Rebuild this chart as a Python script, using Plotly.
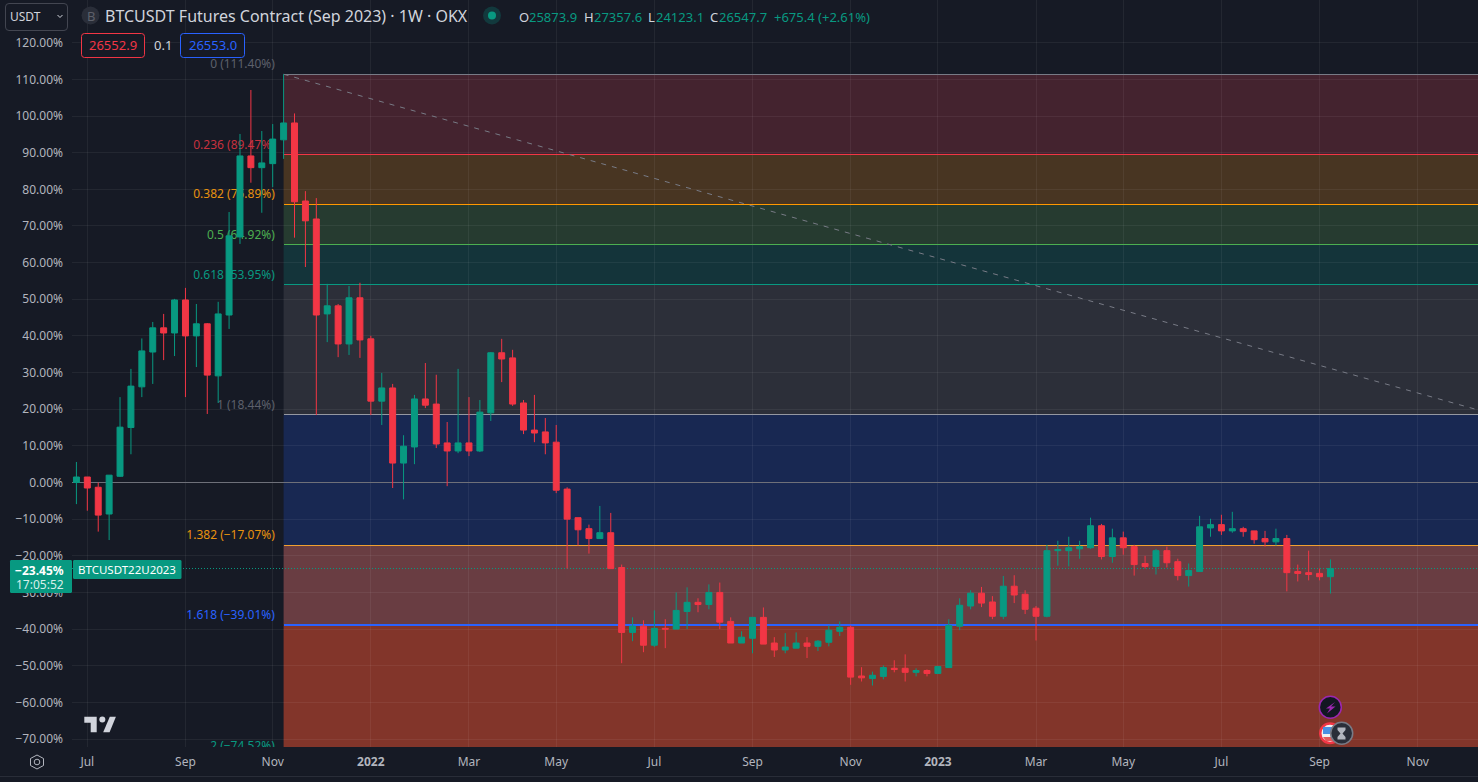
import pandas as pd
import plotly.graph_objects as go

# ---------- data (percent change) ----------
first_week = "2021-06-28"
opens = [0,1.5,-1.3,-8.6,1.7,15,26.1,35.6,42.2,40.8,49.8,40,43.3,29.1,45.7,67,89.1,85.9,87,93.5,
         98.1,76.8,71.9,46,48.2,37.8,50.4,39.2,22.2,25.8,5.3,9.7,22.8,21.4,10.8,8.6,10.8,8.6,19,35.4,
         34,21.7,14.3,13.8,11,-1.8,-9.6,-12.6,-15.3,-13.7,-23.2,-40.9,-39.2,-44.4,-39.8,-40,-35.2,-32.7,-33.3,-30,
         -37.9,-43.8,-42.5,-36.8,-43.8,-45.7,-45.2,-43.8,-44.7,-43.6,-40.6,-39.5,-52.8,-53.5,-52.9,-50.7,-50.7,-51.8,-51.3,-52.1,
         -50.5,-39.2,-33.7,-30.2,-32.6,-36.5,-28.3,-30.5,-34.3,-36.5,-18.6,-18.6,-18.1,-17.8,-11.8,-20.2,-15.1,-17.5,-22.1,-22.9,
         -18.6,-21.6,-25.4,-24.3,-12.4,-11.5,-13.2,-12.6,-13.2,-15.3,-16.2,-15.3,-24.3,-24.6,-24.8,-25.7]
highs = [5.6,1.5,0,2,23.3,31,39.3,43.8,46,50.1,53.1,48.7,43.5,49.3,73.8,95.1,107.1,95.9,97.8,111.4,
         100.7,79.5,77.6,54.2,48.7,53.6,54.5,40,29.9,26.9,12.9,23.9,32.6,29.4,16.5,31,23.3,22.5,35.6,39.2,
         36.2,22.5,23.9,17.6,15.7,-1.3,-9.6,-11.5,-6.4,-8.3,-22.4,-36.8,-37.6,-34.9,-37.3,-30,-28.6,-31.6,-27.8,-27.3,
         -36.8,-40.6,-36.8,-34.1,-42.2,-41.1,-40.9,-42.2,-43,-39,-37.9,-39,-50.4,-51.6,-49.9,-48.5,-46.9,-50.7,-51,-50.2,
         -37.3,-31.6,-29.4,-28.5,-31,-25.5,-25.3,-29.4,-33.7,-17,-15.9,-14.8,-15.9,-9.6,-11.3,-12.6,-13.4,-17,-20,-18.1,
         -17.5,-20.8,-22.1,-9.1,-9.9,-8.8,-8,-12.1,-13.2,-13.2,-12.6,-14.3,-22.4,-18.6,-23.5,-21]
lows = [-5.9,-7.7,-13.4,-15.7,1.5,7.7,23.3,26.9,33.4,34.5,23.3,31.5,18.7,21.7,41.9,65.1,81.8,73.6,80.6,88.3,
        66.8,58.8,18.4,38.3,34.2,34.8,34,18.4,15.7,-1.5,-4.6,5,20.3,9.4,-1,8,7.2,8.3,16.8,27.4,
        20.9,13.2,11,7.7,-2.9,-23.5,-17.2,-19.4,-15.3,-23.5,-49.3,-43.3,-46.3,-44.9,-45.2,-40,-40,-35.4,-34.6,-40,
        -43.8,-43.8,-46.6,-44.1,-47.6,-46.6,-45.2,-47.9,-46,-44.7,-41.9,-55.2,-54.3,-55.4,-53.7,-51.8,-54.3,-52.9,-52.9,-52.1,
        -50.5,-40.3,-34.6,-34,-37.3,-37.3,-32.9,-35.9,-43.1,-36.8,-22.7,-22.9,-20.8,-18.1,-21,-21.9,-19.7,-25.4,-23.5,-25.1,
        -23.2,-26.7,-28.4,-24.3,-14.8,-14.3,-13.7,-14.8,-16.7,-17.5,-17.2,-29.7,-27,-26.7,-26.7,-30.3]
closes = [1.5,-1.5,-8.9,2,15.1,26.3,35.9,42.2,40.8,49.8,40,43.3,29.3,46,67.3,89.1,85.9,87.2,93.7,98.1,
          76.6,71.4,45.7,48.2,37.8,50.4,38.9,22.2,25.8,5.3,9.9,22.8,21.1,10.5,8.6,10.8,8.6,19.2,35.4,33.7,
          21.4,14.3,13.5,10.8,-2.1,-10,-12.9,-15.3,-13.7,-23.5,-40.9,-39.2,-44.4,-39.8,-40,-34.9,-32.7,-33.3,-30,-38.1,
          -43.8,-42.2,-36.8,-44.1,-45.7,-44.9,-43.8,-44.7,-43.3,-40.3,-39.5,-53.1,-53.3,-52.6,-50.5,-51,-51.8,-51.3,-52.1,-50.2,
          -39,-33.5,-30.2,-32.9,-36.5,-28.3,-30.7,-34.6,-36.5,-18.6,-18.3,-17.8,-17.5,-11.8,-20.2,-15.1,-17.8,-22.4,-22.9,-18.6,
          -21.9,-25.4,-24,-12.1,-11.5,-13.2,-12.6,-13.4,-15.6,-16.2,-15.3,-24.6,-24.8,-25.1,-25.7,-23.45]
week_dates = pd.date_range(first_week, periods=len(opens), freq="7D")

y_ticks = [120,110,100,90,80,70,60,50,40,30,20,10,0,-10,-20,-30,-40,-50,-60,-70]
y_tick_labels = ["120.00%","110.00%","100.00%","90.00%","80.00%","70.00%","60.00%","50.00%","40.00%","30.00%",
                 "20.00%","10.00%","0.00%","\u221210.00%","\u221220.00%","\u221230.00%","\u221240.00%","\u221250.00%","\u221260.00%","\u221270.00%"]
x_ticks = ["2021-07-05","2021-09-06","2021-11-01","2022-01-03","2022-03-07","2022-05-02","2022-07-04","2022-09-05",
           "2022-11-07","2023-01-02","2023-03-06","2023-05-01","2023-07-03","2023-09-04","2023-11-06"]
x_tick_labels = ["Jul","Sep","Nov","<b>2022</b>","Mar","May","Jul","Sep","Nov","<b>2023</b>","Mar","May","Jul","Sep","Nov"]

fib_names  = ["0","0.236","0.382","0.5","0.618","1","1.382","1.618","2"]
fib_values = [111.40,89.47,75.89,64.92,53.95,18.44,-17.07,-39.01,-74.52]
fib_labels = ["0 (111.40%)","0.236 (89.47%)","0.382 (75.89%)","0.5 (64.92%)","0.618 (53.95%)","1 (18.44%)",
              "1.382 (\u221217.07%)","1.618 (\u221239.01%)","2 (\u221274.52%)"]
fib_line_colors = ["#787B86","#F23645","#FF9800","#4CAF50","#089981","#9598A1","#F0A030","#2962FF","#089981"]
fib_line_widths = [1,1,1,1,1,1,1,2,1]
fib_text_colors = ["#5D606B","#C7313F","#E8920F","#4CAF50","#089981","#5D606B","#E8920F","#2962FF","#089981"]
fib_band_colors = ["#44232F","#483522","#263B30","#14343A","#2C2F39","#182852","#693D42","#82352A"]
fib_start = "2021-11-08"
x_left, x_right = "2021-06-25 04:00", "2023-12-14 17:00"
y_bottom, y_top = -72.17, 131.65
trend_end_value = 19.8
last_value = -23.45

UP, DOWN = "#089981", "#F23645"
BG = "#161A25"
FONT = "Noto Sans"
W, H, L, B = 1478, 782, 72, 35

def px(x): return (x - L) / (W - L)
def py(y): return 1 - y / (H - B)

def path_from(points, close=True):
    s = "M" + " L".join(f"{px(x):.5f},{py(y):.5f}" for x, y in points)
    return s + (" Z" if close else "")

def rrect(x0, y0, x1, y1, r):
    c = lambda x, y: f"{px(x):.5f},{py(y):.5f}"
    return (f"M{c(x0+r,y0)} L{c(x1-r,y0)} Q{c(x1,y0)} {c(x1,y0+r)} L{c(x1,y1-r)} Q{c(x1,y1)} {c(x1-r,y1)} "
            f"L{c(x0+r,y1)} Q{c(x0,y1)} {c(x0,y1-r)} L{c(x0,y0+r)} Q{c(x0,y0)} {c(x0+r,y0)} Z")

shapes, annos = [], []

def pshape(path, fill="rgba(0,0,0,0)", line=None, width=1):
    shapes.append(dict(type="path", xref="paper", yref="paper", path=path, fillcolor=fill, layer="above",
                       line=dict(color=line or "rgba(0,0,0,0)", width=width if line else 0)))

def circle(cx, cy, r, fill="rgba(0,0,0,0)", line=None, width=1):
    shapes.append(dict(type="circle", xref="paper", yref="paper", x0=px(cx-r), x1=px(cx+r), y0=py(cy+r), y1=py(cy-r),
                       fillcolor=fill, layer="above",
                       line=dict(color=line or "rgba(0,0,0,0)", width=width if line else 0)))

def text(x, y, s, size=12, color="#D1D4DC", anchor="left"):
    annos.append(dict(xref="paper", yref="paper", x=px(x), y=py(y), text=s, showarrow=False, xanchor=anchor,
                      yanchor="middle", xshift=0, font=dict(family=FONT, size=size, color=color), borderpad=0, borderwidth=0))

# ---------- Fibonacci bands, levels and labels ----------
for i, col in enumerate(fib_band_colors):
    shapes.append(dict(type="rect", xref="x", yref="y", x0=fib_start, x1=x_right, y0=fib_values[i+1], y1=fib_values[i],
                       fillcolor=col, line=dict(width=0), layer="below"))
label_end = pd.Timestamp(fib_start) - pd.Timedelta(days=5.6)
for v, lc, lw, tc, lab in zip(fib_values, fib_line_colors, fib_line_widths, fib_text_colors, fib_labels):
    shapes.append(dict(type="line", xref="x", yref="y", x0=fib_start, x1=x_right, y0=v, y1=v,
                       line=dict(color=lc, width=lw), layer="between"))
    shapes.append(dict(type="line", xref="x", yref="y", x0=label_end - pd.Timedelta(days=70), x1=label_end,
                       y0=v+2.6, y1=v+2.6, line=dict(width=0, color="rgba(0,0,0,0)"), layer="between",
                       label=dict(text=lab, textposition="end", xanchor="right", yanchor="middle", padding=0,
                                  font=dict(family=FONT, size=12, color=tc))))
# zero line, trend line, last-price line
shapes.append(dict(type="line", xref="x", yref="y", x0=x_left, x1=x_right, y0=0, y1=0,
                   line=dict(color="#6E7079", width=1), layer="between"))
shapes.append(dict(type="line", xref="x", yref="y", x0=fib_start, x1=x_right, y0=fib_values[0], y1=trend_end_value,
                   line=dict(color="#787B86", width=1, dash="5px,6px"), layer="between"))
shapes.append(dict(type="line", xref="x", yref="y", x0=x_left, x1=x_right, y0=last_value, y1=last_value,
                   line=dict(color="#089981", width=1, dash="1px,2px"), layer="between"))

# ---------- overlays: header ----------
pshape(rrect(5.5, 3.5, 67.5, 30.5, 3.5), fill=BG, line="#434651")
text(10, 16.5, "USDT", 12, "#D1D4DC")
pshape(path_from([(57.5,15),(60,17.5),(62.5,15)], close=False), line="#D1D4DC")
circle(90.5, 15.5, 9, fill="#2A2E39")
text(90.5, 15.5, "B", 13, "#5D606B", "center")
text(104.5, 16, "BTCUSDT Futures Contract (Sep 2023) \u00b7 1W \u00b7 OKX", 16, "#D1D4DC")
circle(492, 15.5, 9, fill="#12393D")
circle(492, 15.5, 4, fill="#089981")
hx = [(518.5,"O","#D1D4DC"),(528.5,"25873.9","#089981"),(583.5,"H","#D1D4DC"),(593.5,"27357.6","#089981"),
      (647.5,"L","#D1D4DC"),(656,"24123.1","#089981"),(709.5,"C","#D1D4DC"),(719,"26547.7","#089981"),
      (773.5,"+675.4 (+2.61%)","#089981")]
for x, s, c in hx:
    text(x, 16.5, s, 13, c)
pshape(rrect(81.5, 33.5, 144.5, 57.5, 3), fill=BG, line="#F23645")
text(113, 45.5, "26552.9", 13, "#F23645", "center")
text(162.5, 45.5, "0.1", 13, "#D1D4DC", "center")
pshape(rrect(180.5, 33.5, 244.5, 57.5, 3), fill=BG, line="#2962FF")
text(212.5, 45.5, "26553.0", 13, "#2962FF", "center")

# ---------- overlays: last price labels ----------
pshape(rrect(10, 560, 72, 593, 1.5), fill="#089981")
text(63.5, 570, "<b>\u221223.45%</b>", 12, "#FFFFFF", "right")
text(63.5, 584.5, "17:05:52", 12, "#D8EFEA", "right")
pshape(rrect(73, 560, 181.5, 579, 1.5), fill="#089981")
text(78, 569.5, "BTCUSDT22U2023", 11.5, "#FFFFFF")

# ---------- overlays: logo, gear, bottom line, event icons ----------
pshape(path_from([(84.3,716.7),(96.7,716.7),(96.7,732.3),(90.7,732.3),(90.7,722.7),(84.3,722.7)]), fill="#D1D4DC")
circle(102.3, 719.5, 3, fill="#D1D4DC")
pshape(path_from([(109.8,716.7),(115.9,716.7),(109.6,732.3),(103.2,732.3)]), fill="#D1D4DC")
pshape(path_from([(37,755),(43.5,758.5),(43.5,765.5),(37,769),(30.5,765.5),(30.5,758.5)]), line="#B2B5BE")
circle(37, 762, 2.8, line="#B2B5BE")
pshape(path_from([(0,776.5),(1478,776.5)], close=False), line="#2A2E39")

circle(1330.3, 707.3, 11, fill="#131722", line="#9C27B0", width=1.5)
pshape(path_from([(1335,702),(1326,708.5),(1330,708.5),(1327,713.5),(1335.5,706.5),(1331,706.5)]), fill="#9C27B0")
circle(1330, 733.3, 11, fill="#F23645")
circle(1330, 733.3, 8.5, fill="#F0F0F0")
pshape(path_from([(1323,727),(1337,727),(1337,734),(1323,734)]), fill="#4A90E2")
pshape(path_from([(1323,737),(1337,737),(1334,741),(1326,741)]), fill="#E35A5A")
circle(1341.7, 733.3, 11, fill="#2A2E39", line="#787B86", width=1.5)
pshape(path_from([(1337.5,727.5),(1345.5,727.5),(1345.5,730),(1342.5,733.5),(1345.5,737),(1345.5,739.5),(1337.5,739.5),(1337.5,737),(1340.5,733.5),(1337.5,730)]), fill="#B2B5BE")

# ---------- figure ----------
fig = go.Figure(go.Candlestick(
    x=week_dates, open=opens, high=highs, low=lows, close=closes, whiskerwidth=0,
    increasing=dict(line=dict(color=UP, width=1), fillcolor=UP),
    decreasing=dict(line=dict(color=DOWN, width=1), fillcolor=DOWN),
    hoverinfo="skip", showlegend=False))

GRID = "rgba(255,255,255,0.06)"
fig.update_layout(
    width=W, height=H, margin=dict(l=L, r=0, t=0, b=B, pad=0), autosize=False,
    paper_bgcolor=BG, plot_bgcolor=BG, showlegend=False, boxgap=0.22,
    font=dict(family=FONT, size=12, color="#B2B5BE"),
    shapes=shapes, annotations=annos,
    xaxis=dict(type="date", range=[x_left, x_right], rangeslider=dict(visible=False), tickmode="array",
               tickvals=x_ticks, ticktext=x_tick_labels, showgrid=True, gridcolor=GRID, gridwidth=1,
               ticks="", ticklabelstandoff=6, showline=False, zeroline=False, tickfont=dict(size=12, color="#B2B5BE")),
    yaxis=dict(side="left", range=[y_bottom, y_top], tickmode="array", tickvals=y_ticks, ticktext=y_tick_labels,
               showgrid=True, gridcolor=GRID, gridwidth=1, ticks="", ticklabelstandoff=8, zeroline=False, showline=False,
               tickfont=dict(size=12, color="#B2B5BE")),
)
crisp_js = """
document.body.style.margin='0';document.body.style.overflow='hidden';
document.querySelectorAll('.shape-group path, .shapelayer path, path[data-index]').forEach(function(p){
  var d=p.getAttribute('d')||''; var m=d.match(/^M([\\d.\\-]+),([\\d.\\-]+)L([\\d.\\-]+),([\\d.\\-]+)$/);
  if(m && m[2]===m[4]){p.style.shapeRendering='crispEdges';}
});
"""
fig.write_html("out.html", config=dict(displayModeBar=False), post_script=crisp_js)
